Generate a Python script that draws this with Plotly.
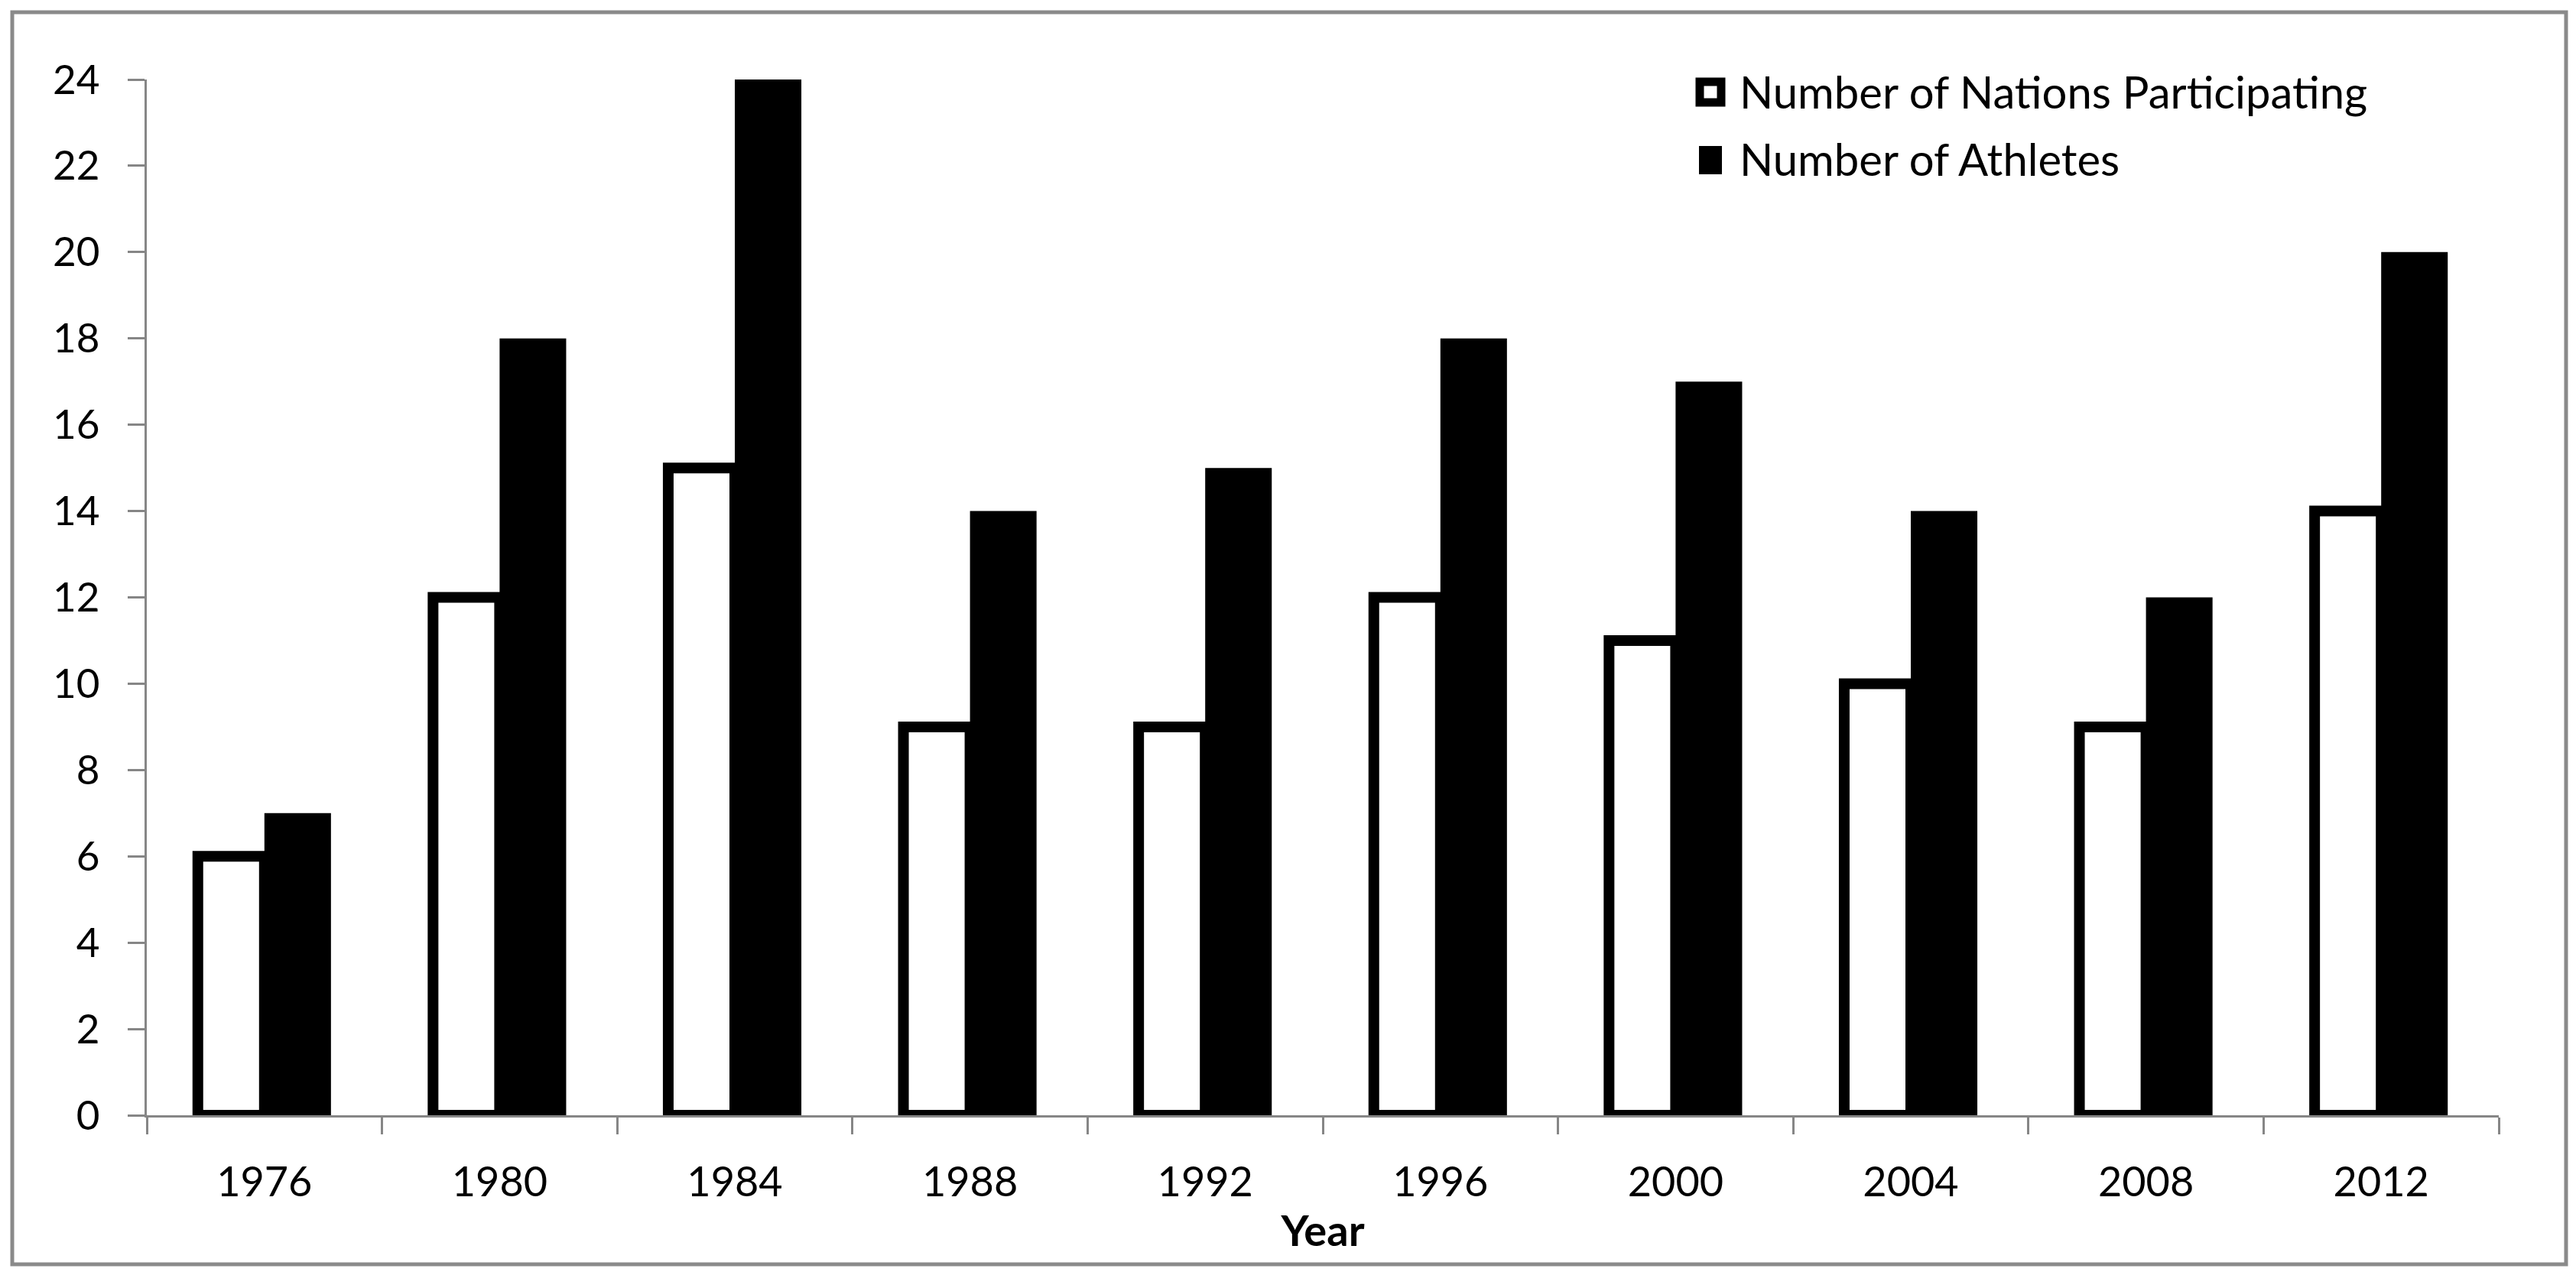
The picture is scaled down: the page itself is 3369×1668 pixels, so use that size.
import plotly.graph_objects as go

years = ["1976", "1980", "1984", "1988", "1992", "1996", "2000", "2004", "2008", "2012"]
nations = [6, 12, 15, 9, 9, 12, 11, 10, 9, 14]
athletes = [7, 18, 24, 14, 15, 18, 17, 14, 12, 20]
series_names = ["Number of Nations Participating", "Number of Athletes"]

W, H = 3369, 1668
L, R, T, B = 192, 3268, 104, 1459
PW, PH = R - L, B - T

def px(x):
    return (x - L) / PW

def py(y):
    return (B - y) / PH

FONT = "Lato"
AXC = "#868686"

fig = go.Figure()
fig.add_trace(go.Bar(x=years, y=nations, name=series_names[0],
                     marker=dict(color="white", line=dict(color="black", width=14)),
                     cliponaxis=False, showlegend=False))
fig.add_trace(go.Bar(x=years, y=athletes, name=series_names[1],
                     marker=dict(color="black", line=dict(width=0)),
                     cliponaxis=False, showlegend=False))

shapes = [
    # outer chart border
    dict(type="rect", xref="paper", yref="paper",
         x0=px(16), x1=px(3356), y0=py(16), y1=py(1654),
         line=dict(color="#8a8a8a", width=5), layer="below"),
    # legend symbols
    dict(type="rect", xref="paper", yref="paper",
         x0=px(2223), x1=px(2251), y0=py(107), y1=py(134),
         fillcolor="white", line=dict(color="black", width=11)),
    dict(type="rect", xref="paper", yref="paper",
         x0=px(2222), x1=px(2252), y0=py(191), y1=py(228),
         fillcolor="black", line=dict(color="black", width=0)),
]
annotations = [
    dict(text=series_names[0], xref="paper", yref="paper", x=px(2273), y=py(120),
         xanchor="left", yanchor="middle", showarrow=False,
         font=dict(family=FONT, size=58, color="black")),
    dict(text=series_names[1], xref="paper", yref="paper", x=px(2273), y=py(208),
         xanchor="left", yanchor="middle", showarrow=False,
         font=dict(family=FONT, size=58, color="black")),
]

fig.update_layout(
    width=W, height=H,
    margin=dict(l=L, r=W - R, t=T, b=H - B, pad=0),
    paper_bgcolor="white", plot_bgcolor="white",
    barmode="group", bargap=0.434, bargroupgap=0,
    font=dict(family=FONT, size=54, color="black"),
    shapes=shapes, annotations=annotations,
    showlegend=False,
)
fig.update_xaxes(type="category", showline=True, linecolor=AXC, linewidth=3,
                 ticks="outside", tickson="boundaries", ticklen=22, tickwidth=3, tickcolor=AXC,
                 showgrid=False, zeroline=False, ticklabelstandoff=38,
                 tickfont=dict(family=FONT, size=54, color="black"),
                 title=dict(text="<b>Year</b>", standoff=16,
                            font=dict(family=FONT, size=56, color="black")))
fig.update_yaxes(range=[0, 24], dtick=2, showline=True, linecolor=AXC, linewidth=3,
                 ticks="outside", ticklen=22, tickwidth=3, tickcolor=AXC,
                 showgrid=False, zeroline=False, ticklabelstandoff=26,
                 tickfont=dict(family=FONT, size=53, color="black"))

fig.write_html("out.html", config={"displayModeBar": False},
               post_script="document.body.style.margin='0';document.body.style.padding='0';")
